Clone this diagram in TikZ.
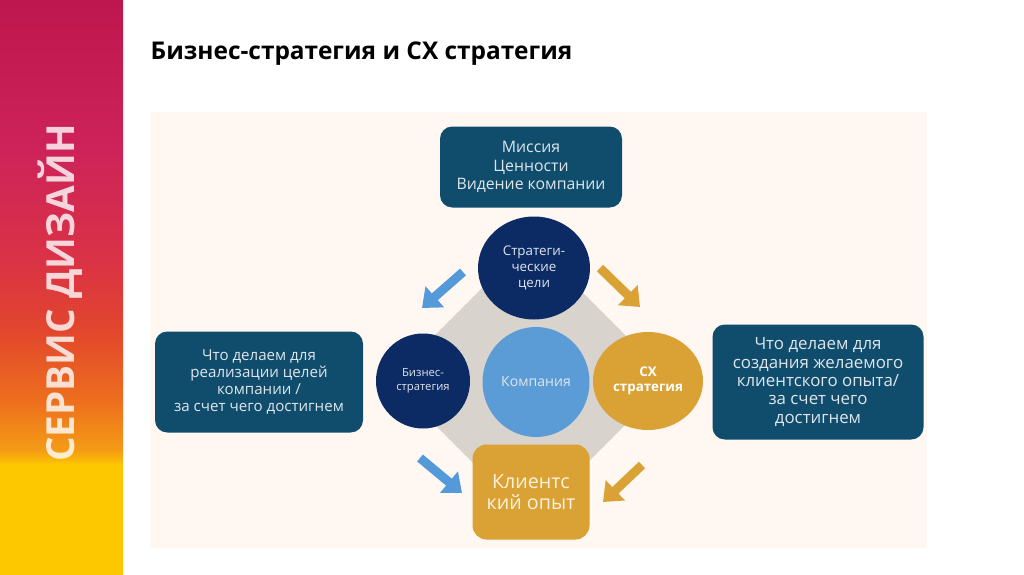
\documentclass[tikz,border=0pt]{standalone}
\usepackage{fontspec}
\setmainfont{Open Sans}
\usetikzlibrary{shapes.geometric,arrows.meta,positioning}

\definecolor{boxteal}{RGB}{16,76,108}
\definecolor{navy}{RGB}{12,42,100}
\definecolor{skyblue}{RGB}{92,156,214}
\definecolor{gold}{RGB}{218,162,52}
\definecolor{arrowblue}{RGB}{84,153,216}
\definecolor{diamondgray}{RGB}{216,211,204}
\definecolor{cream}{RGB}{255,247,241}
\definecolor{boxtext}{RGB}{222,230,236}
\definecolor{goldtext}{RGB}{255,242,222}
\definecolor{sideyellow}{RGB}{253,200,0}
\definecolor{sideorange}{RGB}{244,155,22}
\definecolor{sideamber}{RGB}{237,110,30}
\definecolor{sidered}{RGB}{226,70,45}
\definecolor{siderose}{RGB}{218,50,70}
\definecolor{sidepink}{RGB}{205,35,90}
\definecolor{sidemagenta}{RGB}{190,22,78}

% sidebar gradient, 25bp = bottom, 75bp = top
\pgfdeclareverticalshading{sidebar}{100bp}{color(0bp)=(sideyellow); color(34.5bp)=(sideyellow); color(35.8bp)=(sideorange); color(40.2bp)=(sideamber); color(46.3bp)=(sidered); color(52.4bp)=(siderose); color(61.9bp)=(sidepink); color(75bp)=(sidemagenta); color(100bp)=(sidemagenta)}

\newcommand{\px}{0.1mm}

\begin{document}
\begin{tikzpicture}[x=0.1mm, y=-0.1mm,
    infobox/.style={rectangle, rounded corners=3.5pt, fill=boxteal, text=boxtext,
        align=center, inner sep=0pt, font=\fontsize{4.3pt}{4.8pt}\selectfont},
    goal/.style={ellipse, fill=#1, text=boxtext, align=center, inner sep=0pt},
    bigarrow/.style={line width=9*\px, draw=#1,
        -{Triangle[width=27*\px, length=17*\px]}}]
    \useasboundingbox (0,0) rectangle (1024,574);
    \fill[white] (0,0) rectangle (1024,574);

    % Sidebar
    \shade[shading=sidebar] (0,0) rectangle (123,574);
    \node[rotate=90, text=white, opacity=0.8, font=\bfseries\fontsize{11pt}{12pt}\selectfont]
        (side) at (60,293) {СЕРВИС ДИЗАЙН};

    % Title
    \node[anchor=base west, inner sep=0pt, font=\bfseries\fontsize{6.95pt}{8pt}\selectfont]
        (title) at (150,59) {Бизнес-стратегия и СХ стратегия};

    % Diagram background
    \fill[cream] (150,112) rectangle (927,548);
    \fill[diamondgray] (530,240) -- (670,380) -- (530,520) -- (390,380) -- cycle;

    % Boxes
    \node[infobox, minimum width=182*\px, minimum height=81*\px,
        font=\fontsize{4.5pt}{5.3pt}\selectfont] (mission) at (531,167)
        {Миссия\\Ценности\\Видение компании};
    \node[infobox, minimum width=208*\px, minimum height=101*\px] (bizbox) at (259,382)
        {Что делаем для\\реализации целей\\компании /\\за счет чего достигнем};
    \node[infobox, minimum width=211*\px, minimum height=115*\px,
        font=\fontsize{4.8pt}{5.2pt}\selectfont] (cxbox) at (818,382)
        {Что делаем для\\создания желаемого\\клиентского опыта/\\за счет чего\\достигнем};
    \node[rectangle, rounded corners=4pt, fill=gold, text=goldtext, align=center,
        minimum width=117*\px, minimum height=95*\px, inner sep=0pt,
        font=\fontsize{5.6pt}{6.2pt}\selectfont] (cx) at (531,492) {Клиентс\\кий опыт};

    % Circles
    \node[goal=navy, minimum width=112*\px, minimum height=103*\px,
        font=\fontsize{3.8pt}{4.6pt}\selectfont] (goals) at (534,268) {Стратеги-\\ческие\\цели};
    \node[goal=navy, minimum width=94*\px, minimum height=95*\px,
        font=\fontsize{3.2pt}{3.8pt}\selectfont] (biz) at (423,381) {Бизнес-\\стратегия};
    \node[goal=skyblue, minimum width=107*\px, minimum height=110*\px,
        font=\fontsize{4pt}{4.6pt}\selectfont] (company) at (536,382) {Компания};
    \node[goal=gold, minimum width=110*\px, minimum height=98*\px, text=white,
        font=\bfseries\fontsize{3.8pt}{4.4pt}\selectfont] (cxs) at (648,381) {СХ\\стратегия};

    % Arrows
    \coordinate (b1s) at (463,272);
    \coordinate (b1e) at (422,308);
    \coordinate (g1s) at (600,268);
    \coordinate (g1e) at (640,307);
    \coordinate (b2s) at (420,458);
    \coordinate (b2e) at (462,493);
    \coordinate (g2s) at (642,465);
    \coordinate (g2e) at (603,502);
    \draw[bigarrow=arrowblue] (b1s) -- (b1e);
    \draw[bigarrow=gold] (g1s) -- (g1e);
    \draw[bigarrow=arrowblue] (b2s) -- (b2e);
    \draw[bigarrow=gold] (g2s) -- (g2e);
\end{tikzpicture}
\end{document}
